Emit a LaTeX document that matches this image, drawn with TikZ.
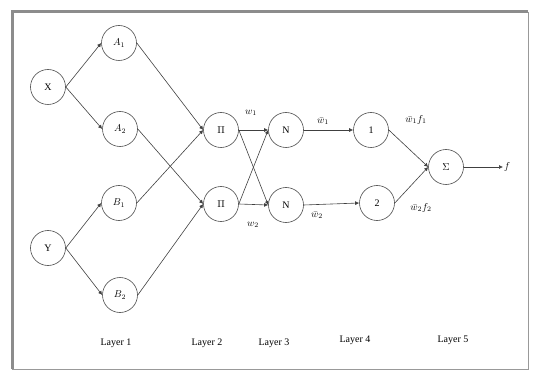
\documentclass[tikz,border=0pt]{standalone}
\usepackage{fontspec}
\setmainfont{Liberation Serif}
\usetikzlibrary{arrows.meta}
\begin{document}
\begin{tikzpicture}[x=1pt,y=-1pt,
  neuron/.style={circle,draw=black!70,line width=0.6pt,minimum size=35pt,inner sep=0pt,font=\fontsize{10}{11}\selectfont},
  conn/.style={draw=black!75,line width=0.6pt,-{Latex[length=4pt,width=4pt]}},
  lbl/.style={font=\fontsize{10}{11}\selectfont,inner sep=1pt},
  layerlbl/.style={font=\fontsize{10}{12}\selectfont}]
\useasboundingbox (0,0) rectangle (537,371);
% frame
\draw[black!40,line width=0.6pt] (12,12) rectangle (528,369);
\draw[black!45,line width=3pt] (12,369) -- (12,12) -- (528,12);
% nodes
\node[neuron] (X) at (48,87) {X};
\node[neuron] (Y) at (48,248) {Y};
\node[neuron] (A1) at (119,43) {$A_1$};
\node[neuron] (A2) at (120,129) {$A_2$};
\node[neuron] (B1) at (119,203) {$B_1$};
\node[neuron] (B2) at (120,295) {$B_2$};
\node[neuron] (P1) at (221,130) {$\Pi$};
\node[neuron] (P2) at (221,204) {$\Pi$};
\node[neuron] (N1) at (286,130) {N};
\node[neuron] (N2) at (286,205) {N};
\node[neuron] (L1) at (371,130) {1};
\node[neuron] (L2) at (377,203) {2};
\node[neuron] (S) at (446,167) {$\Sigma$};
\coordinate (out) at (503,167);
% connectors
\draw[conn] (X.east) -- (A1.west);
\draw[conn] (X.east) -- (A2.west);
\draw[conn] (Y.east) -- (B1.west);
\draw[conn] (Y.east) -- (B2.west);
\draw[conn] (A1.east) -- (P1.west);
\draw[conn] (B1.east) -- (P1.west);
\draw[conn] (A2.east) -- (P2.west);
\draw[conn] (B2.east) -- (P2.west);
\draw[conn] (P1.east) -- (N1.west);
\draw[conn] (P1.east) -- (N2.west);
\draw[conn] (P2.east) -- (N1.west);
\draw[conn] (P2.east) -- (N2.west);
\draw[conn] (N1.east) -- (L1.west);
\draw[conn] (N2.east) -- (L2.west);
\draw[conn] (L1.east) -- (S.west);
\draw[conn] (L2.east) -- (S.west);
\draw[conn] (S.east) -- (out);
% labels
\node[lbl] (w1) at (251,113) {$w_1$};
\node[lbl] (w2) at (253,225) {$w_2$};
\node[lbl] (wb1) at (323,121) {$\bar{w}_1$};
\node[lbl] (wb2) at (317,215) {$\bar{w}_2$};
\node[lbl] (wf1) at (416,120) {$\bar{w}_1 f_1$};
\node[lbl] (wf2) at (421,208) {$\bar{w}_2 f_2$};
\node[lbl,anchor=west] (f) at (out) {$f$};
\node[layerlbl] (ly1) at (116,343) {Layer 1};
\node[layerlbl] (ly2) at (207,343) {Layer 2};
\node[layerlbl] (ly3) at (274,343) {Layer 3};
\node[layerlbl] (ly4) at (355,340) {Layer 4};
\node[layerlbl] (ly5) at (453,340) {Layer 5};
\end{tikzpicture}
\end{document}
